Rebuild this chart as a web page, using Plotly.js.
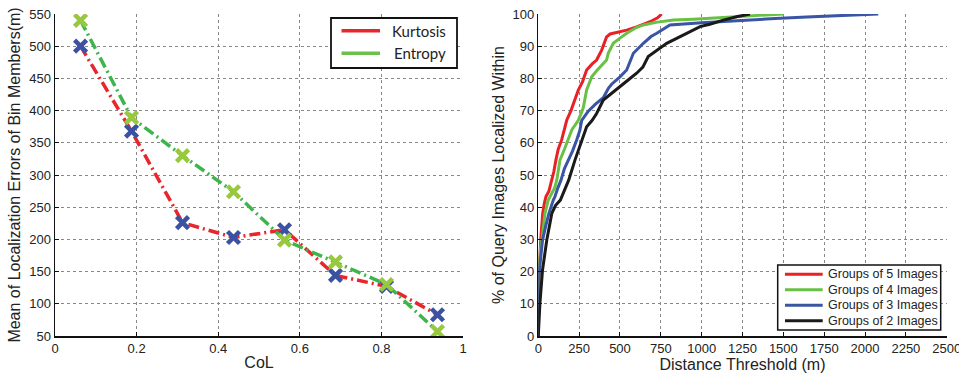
<!DOCTYPE html>
<html>
<head>
<meta charset="utf-8">
<script src="https://cdn.plot.ly/plotly-3.0.1.min.js"></script>
<style>html,body{margin:0;padding:0;background:#fff;}#chart{width:959px;height:373px;}</style>
</head>
<body>
<div id="chart"></div>
<script>
// ---- Left chart data ----
const colValues = [0.0625, 0.1875, 0.3125, 0.4375, 0.5625, 0.6875, 0.8125, 0.9375];
const kurtosisErr = [500, 368, 226, 203, 215, 144, 127, 83];
const entropyErr = [540, 389, 330, 274, 199, 165, 130, 57];

// ---- Right chart data (CDF curves) ----
const g5_dist = [0, 2, 5, 15, 27, 37, 47, 65, 83, 95, 108, 122, 143, 160, 174, 200, 225, 245, 271, 296, 330, 357, 388, 418, 440, 500, 541, 602, 684, 730, 755];
const g5_pct  = [0, 12, 20, 30, 38.1, 41.2, 43.3, 45, 48.4, 51, 54.7, 58, 60.9, 64, 67, 70, 73.3, 76.4, 79, 82.6, 84.5, 85.7, 88.8, 92.9, 93.8, 94.5, 95, 96, 97.6, 98.8, 100];

const g4_dist = [0, 2, 4, 13, 22, 41, 61, 72, 84, 100, 113, 133, 160, 184, 205, 245, 275, 296, 327, 360, 400, 418, 428, 459, 500, 541, 600, 643, 720, 827, 950, 1131, 1300, 1500];
const g4_pct  = [0, 12, 20.5, 26.7, 29.8, 38.1, 42.2, 43.3, 44.3, 46, 48.4, 54.7, 58, 60.9, 64, 67, 70.8, 76.4, 80.5, 82.5, 84.5, 85.7, 87.8, 90.9, 92.5, 94, 95.8, 96.6, 97.4, 98.1, 98.4, 98.9, 99.4, 100];

const g3_dist = [0, 1, 3, 10, 26, 45, 65, 92, 102, 120, 139, 160, 184, 210, 235, 255, 266, 306, 350, 398, 430, 449, 500, 541, 560, 582, 643, 690, 725, 806, 1000, 1235, 1450, 1643, 1850, 2081];
const g3_pct  = [0, 10, 18, 22, 29.8, 34, 38.1, 42.2, 43.3, 46, 48.4, 52, 54.7, 57.5, 60.9, 64, 67, 69.8, 72, 74, 77, 78.2, 80.5, 82.6, 85, 87.8, 90.9, 93, 94, 96.6, 97.3, 98.1, 98.6, 99.1, 99.5, 100];

const g2_dist = [0, 10, 26, 52, 83, 105, 135, 160, 186, 225, 266, 296, 330, 357, 398, 450, 500, 550, 602, 640, 673, 720, 786, 850, 908, 990, 1050, 1133, 1220, 1296];
const g2_pct  = [0, 10.1, 20.5, 29.8, 38.1, 40.5, 42.2, 45, 48.4, 54.7, 60.9, 65, 67, 69.1, 73.3, 75.5, 77.4, 79.5, 81.6, 83.5, 86.8, 88.5, 90.9, 92.5, 94, 96.1, 96.8, 98.1, 99.2, 100];

const seriesNames = ['Groups of 5 Images', 'Groups of 4 Images', 'Groups of 3 Images', 'Groups of 2 Images'];
const leftNames = ['Kurtosis', 'Entropy'];

const RED = '#e8262b', GREEN = '#3cb54a', LGREEN = '#6cc04a', BLUE = '#3b52a3', XGREEN = '#98c83e';
const curveColors = ['#e82127', '#6abf45', '#3a55a4', '#1a1a1a'];
const leftLegendColors = [RED, LGREEN];
const dashPat = '11px,4px,2px,4px';

const curves = [[g5_dist, g5_pct], [g4_dist, g4_pct], [g3_dist, g3_pct], [g2_dist, g2_pct]];

const traces = [
  {x: colValues, y: kurtosisErr, type: 'scatter', mode: 'lines+markers', name: leftNames[0], showlegend: false,
   line: {color: RED, width: 3.5, dash: dashPat},
   marker: {symbol: 'x-thin', size: 12, line: {color: BLUE, width: 4.5}}, xaxis: 'x', yaxis: 'y'},
  {x: colValues, y: entropyErr, type: 'scatter', mode: 'lines+markers', name: leftNames[1], showlegend: false,
   line: {color: GREEN, width: 3.5, dash: dashPat},
   marker: {symbol: 'x-thin', size: 12, line: {color: XGREEN, width: 4.5}}, xaxis: 'x', yaxis: 'y'}
];
curves.forEach((c, i) => {
  traces.push({x: c[0], y: c[1], type: 'scatter', mode: 'lines', name: seriesNames[i], showlegend: false,
    line: {color: curveColors[i], width: 3}, xaxis: 'x2', yaxis: 'y2'});
});

// Compact legends drawn as shapes + text (paper coordinates from pixel positions)
const W = 959, PT = 14, PH = 322;
const px = v => v / W;
const py = v => (PT + PH - v) / PH;
const shapes = [];
const annotations = [];

// left legend
shapes.push({type: 'rect', xref: 'paper', yref: 'paper', layer: 'above',
  x0: px(331), x1: px(457), y0: py(68), y1: py(18),
  fillcolor: '#fff', line: {color: '#111', width: 1.8}});
const leftRowY = [30.7, 53.3];
leftNames.forEach((n, i) => {
  shapes.push({type: 'line', xref: 'paper', yref: 'paper', layer: 'above',
    x0: px(341.5), x1: px(380), y0: py(leftRowY[i]), y1: py(leftRowY[i]),
    line: {color: leftLegendColors[i], width: 3.5}});
  annotations.push({xref: 'paper', yref: 'paper', x: px(448), y: py(leftRowY[i]),
    xanchor: 'right', yanchor: 'middle', showarrow: false, text: n,
    font: {family: 'Lato, Open Sans, sans-serif', size: 15, color: '#222'}});
});

// right legend
shapes.push({type: 'rect', xref: 'paper', yref: 'paper', layer: 'above',
  x0: px(777.7), x1: px(940.7), y0: py(330), y1: py(265),
  fillcolor: '#fff', line: {color: '#111', width: 1.5}});
const rowY = [274.3, 289.7, 305.3, 320.7];
seriesNames.forEach((n, i) => {
  shapes.push({type: 'line', xref: 'paper', yref: 'paper', layer: 'above',
    x0: px(785), x1: px(822.7), y0: py(rowY[i]), y1: py(rowY[i]),
    line: {color: curveColors[i], width: 3}});
  annotations.push({xref: 'paper', yref: 'paper', x: px(825.5), y: py(rowY[i]),
    xanchor: 'left', yanchor: 'middle', showarrow: false, text: n,
    font: {family: 'Liberation Sans, Arial, sans-serif', size: 12.5, color: '#222'}});
});

const FONT = 'Liberation Sans, Arial, sans-serif';
const tickFont = {family: FONT, size: 13, color: '#222'};
const titleFont = {family: FONT, size: 16, color: '#222'};
const axCommon = {
  showline: true, linecolor: '#111', linewidth: 1.5, mirror: false,
  ticks: 'inside', ticklen: 4, tickcolor: '#111', tickwidth: 1,
  showgrid: true, gridcolor: '#888', griddash: 'dot', gridwidth: 1,
  zeroline: false, tickfont: tickFont, fixedrange: true, automargin: false
};

const layout = {
  width: 959, height: 373,
  margin: {l: 0, r: 0, t: 14, b: 37, pad: 0},
  paper_bgcolor: '#fff', plot_bgcolor: '#fff',
  font: {family: FONT, color: '#222'},
  showlegend: false,
  xaxis: Object.assign({}, axCommon, {domain: [0.0574, 0.4828], range: [0, 1], dtick: 0.2, tick0: 0,
    anchor: 'y', title: {text: 'CoL', font: titleFont, standoff: 1}}),
  yaxis: Object.assign({}, axCommon, {domain: [0, 1], range: [50, 550], dtick: 50, tick0: 50,
    anchor: 'x', title: {text: 'Mean of Localization Errors of Bin Members(m)', font: titleFont, standoff: 4}}),
  xaxis2: Object.assign({}, axCommon, {domain: [0.5613, 0.9872], range: [0, 2500], dtick: 250, tick0: 0,
    anchor: 'y2', ticklabeloverflow: 'allow',
    title: {text: 'Distance Threshold (m)', font: titleFont, standoff: 1}}),
  yaxis2: Object.assign({}, axCommon, {domain: [0, 1], range: [0, 100], dtick: 10, tick0: 0,
    anchor: 'x2', title: {text: '% of Query Images Localized Within', font: titleFont, standoff: 4}}),
  shapes: shapes,
  annotations: annotations
};

Plotly.newPlot('chart', traces, layout, {displayModeBar: false, staticPlot: true});
</script>
</body>
</html>
